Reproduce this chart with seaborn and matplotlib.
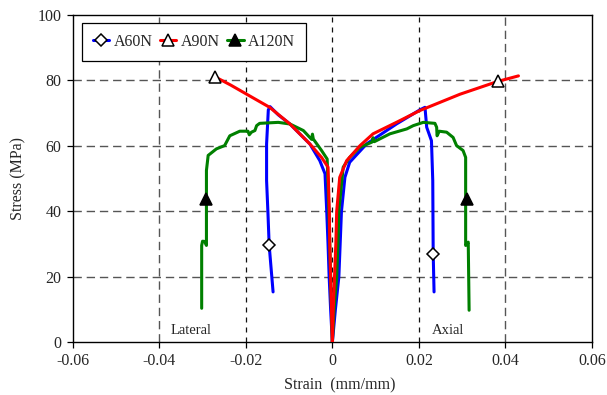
import matplotlib
matplotlib.use("Agg")
import matplotlib.pyplot as plt
from matplotlib.lines import Line2D
import seaborn as sns
import pandas as pd

# ---- data: stress-strain curves, lateral (negative strain) and axial branches ----
series_names = ["A60N", "A90N", "A120N"]

a60_lat_strain = [0, -0.0004, -0.00074, -0.0010, -0.0013, -0.0017, -0.0029, -0.0052, -0.0098,
                  -0.0125, -0.0144, -0.0148, -0.0152, -0.0152, -0.0149, -0.0146, -0.0137]
a60_lat_stress = [0, 10, 20, 30, 40, 51.5, 55.5, 60.6, 66.7, 69.5, 72.0, 71.0, 60.6, 49.4, 40, 29.6, 15.4]

a60_ax_strain = [0, 0.0007, 0.0015, 0.0018, 0.0021, 0.0029, 0.0040, 0.0079, 0.0148, 0.0202,
                 0.0214, 0.0218, 0.0229, 0.0232, 0.0233, 0.0235]
a60_ax_stress = [0, 10, 20, 30, 40, 50.4, 55.0, 60.6, 66.7, 71.0, 71.8, 65.7, 61.6, 49.4, 27.1, 15.4]

a90_lat_strain = [0, -0.0002, -0.0004, -0.0006, -0.0007, -0.0010, -0.0025, -0.0052, -0.0098,
                  -0.0145, -0.0198, -0.0235, -0.0271]
a90_lat_stress = [0, 10, 20, 30, 40, 53.5, 56.5, 60.6, 66.7, 71.8, 75.8, 78.6, 81.1]

a90_ax_strain = [0, 0.0002, 0.0005, 0.0008, 0.0010, 0.0017, 0.0033, 0.0064, 0.0094, 0.0148,
                 0.0202, 0.0295, 0.0382, 0.0430]
a90_ax_stress = [0, 10, 20, 30, 40, 50.4, 55.5, 60.1, 63.7, 67.2, 70.8, 75.8, 79.7, 81.4]

a120_lat_strain = [0, -0.0002, -0.0004, -0.0006, -0.0008, -0.0012, -0.0025, -0.0044, -0.0046,
                   -0.0048, -0.0067, -0.0098, -0.0125, -0.0168, -0.0175, -0.0179, -0.0187,
                   -0.0192, -0.0195, -0.0214, -0.0237, -0.0249, -0.0268, -0.0287, -0.0291,
                   -0.0291, -0.0295, -0.0300, -0.0302, -0.0302]
a120_lat_stress = [0, 10, 20, 30, 40, 56.0, 58.6, 62.1, 63.6, 62.0, 64.7, 66.7, 67.2, 66.9, 66.2,
                   64.7, 64.2, 63.4, 64.5, 64.5, 63.1, 60.1, 59.1, 57.1, 52.5, 29.6, 30.8,
                   30.9, 29.6, 10.4]

a120_ax_strain = [0, 0.0004, 0.0010, 0.0013, 0.0015, 0.0025, 0.0040, 0.0064, 0.0092, 0.0094,
                  0.0097, 0.0133, 0.0172, 0.0187, 0.0210, 0.0237, 0.0241, 0.0242, 0.0247,
                  0.0264, 0.0279, 0.0287, 0.0302, 0.0308, 0.0308, 0.0314, 0.0316]
a120_ax_stress = [0, 10, 20, 30, 40, 53.5, 56.5, 59.6, 61.2, 62.5, 61.3, 63.7, 65.2, 66.2, 67.2,
                  66.9, 65.7, 63.1, 64.5, 64.2, 62.6, 60.1, 58.6, 56.5, 29.6, 30.6, 9.8]

# marker points (one on each branch)
marker_strain = {"A60N": [-0.0146, 0.0233], "A90N": [-0.0271, 0.0382], "A120N": [-0.0291, 0.0311]}
marker_stress = {"A60N": [29.6, 27.1], "A90N": [81.1, 79.7], "A120N": [43.9, 43.7]}

x_ticks = [-0.06, -0.04, -0.02, 0, 0.02, 0.04, 0.06]
x_tick_labels = ["-0.06", "-0.04", "-0.02", "0", "0.02", "0.04", "0.06"]
y_ticks = [0, 20, 40, 60, 80, 100]

# ---- assemble long-form table ----
branches = {
    ("A60N", "lateral"): (a60_lat_strain, a60_lat_stress),
    ("A60N", "axial"): (a60_ax_strain, a60_ax_stress),
    ("A90N", "lateral"): (a90_lat_strain, a90_lat_stress),
    ("A90N", "axial"): (a90_ax_strain, a90_ax_stress),
    ("A120N", "lateral"): (a120_lat_strain, a120_lat_stress),
    ("A120N", "axial"): (a120_ax_strain, a120_ax_stress),
}
frames = []
for (name, side), (xs, ys) in branches.items():
    frames.append(pd.DataFrame({"series": name, "branch": f"{name}-{side}",
                                "order": range(len(xs)), "strain": xs, "stress": ys}))
df = pd.concat(frames, ignore_index=True)

colors = {"A60N": "#0000ff", "A90N": "#ff0000", "A120N": "#008000"}
marker_style = {
    "A60N": dict(marker="D", markersize=6, markerfacecolor="white"),
    "A90N": dict(marker="^", markersize=8.5, markerfacecolor="white"),
    "A120N": dict(marker="^", markersize=8.5, markerfacecolor="black"),
}

sns.set_style("white")
plt.rcParams["font.family"] = ["Liberation Serif", "DejaVu Serif"]

fig = plt.figure(figsize=(6.07, 3.95), dpi=100)
ax = fig.add_axes([0.1198, 0.1334, 0.8555, 0.8286])

# grid drawn as dashed reference lines
for y in [20, 40, 60, 80]:
    ax.axhline(y, color="#555555", lw=1.0, dashes=(6, 3.5), zorder=1)
for x in [-0.04, 0.04]:
    ax.axvline(x, color="#555555", lw=1.0, dashes=(6, 3.5), zorder=1)
for x in [-0.02, 0, 0.02]:
    ax.axvline(x, color="#111111", lw=0.9, dashes=(4, 4), zorder=1)

draw_order = ["A60N", "A120N", "A90N"]
for name in draw_order:
    sub = df[df["series"] == name]
    sns.lineplot(data=sub, x="strain", y="stress", units="branch", estimator=None,
                 sort=False, color=colors[name], lw=2.2, ax=ax, legend=False, zorder=3)

for name in series_names:
    ax.plot(marker_strain[name], marker_stress[name], linestyle="none",
            markeredgecolor="black", markeredgewidth=1.1, zorder=5, **marker_style[name])

ax.set_xlim(-0.06, 0.06)
ax.set_ylim(0, 100)
ax.set_xticks(x_ticks)
ax.set_xticklabels(x_tick_labels)
ax.set_yticks(y_ticks)
ax.tick_params(axis="both", which="major", direction="out", length=4, width=0.9,
               labelsize=11.5, color="black", pad=4, bottom=True, left=True)
for sp in ax.spines.values():
    sp.set_color("black")
    sp.set_linewidth(1.0)

ax.set_xlabel("Strain  (mm/mm)", fontsize=11.5)
ax.set_ylabel("Stress (MPa)", fontsize=11.5)
ax.xaxis.set_label_coords(0.515, -0.108)
ax.yaxis.set_label_coords(-0.09, 0.5)

ax.text(-0.0326, 3.5, "Lateral", ha="center", va="center", fontsize=10.5)
ax.text(0.0268, 3.5, "Axial", ha="center", va="center", fontsize=10.5)

handles = [Line2D([0], [0], color=colors[n], lw=2.2, markeredgecolor="black",
                  markeredgewidth=1.1, **marker_style[n]) for n in series_names]
leg = ax.legend(handles, series_names, loc="upper left", bbox_to_anchor=(0.017, 0.976),
                ncol=3, fontsize=11.5, frameon=True, fancybox=False, edgecolor="black",
                framealpha=1, borderpad=0.7, handlelength=1.05, handletextpad=0.25,
                columnspacing=0.45, borderaxespad=0)
leg.get_frame().set_linewidth(0.9)

fig.savefig("out.png", dpi=100)
